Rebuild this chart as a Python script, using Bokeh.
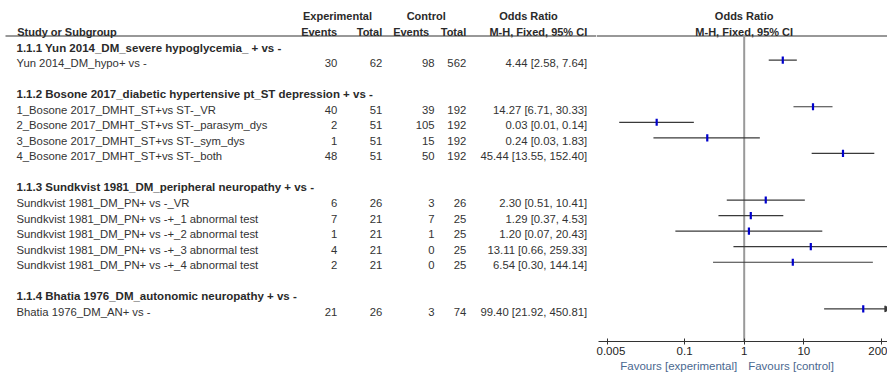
import math
from bokeh.plotting import figure
from bokeh.layouts import row, column, Spacer
from bokeh.models import Range1d, FixedTicker, ColumnDataSource
from bokeh.core.properties import value
from bokeh.embed import file_html
from bokeh.resources import INLINE

# ---------------- data ----------------
subgroups = [
    "1.1.1 Yun 2014_DM_severe hypoglycemia_ + vs -",
    "1.1.2 Bosone 2017_diabetic hypertensive pt_ST depression + vs -",
    "1.1.3 Sundkvist 1981_DM_peripheral neuropathy + vs -",
    "1.1.4 Bhatia 1976_DM_autonomic neuropathy + vs -",
]
studies = [
    "Yun 2014_DM_hypo+ vs -",
    "1_Bosone 2017_DMHT_ST+vs ST-_VR",
    "2_Bosone 2017_DMHT_ST+vs ST-_parasym_dys",
    "3_Bosone 2017_DMHT_ST+vs ST-_sym_dys",
    "4_Bosone 2017_DMHT_ST+vs ST-_both",
    "Sundkvist 1981_DM_PN+ vs -_VR",
    "Sundkvist 1981_DM_PN+ vs -+_1 abnormal test",
    "Sundkvist 1981_DM_PN+ vs -+_2 abnormal test",
    "Sundkvist 1981_DM_PN+ vs -+_3 abnormal test",
    "Sundkvist 1981_DM_PN+ vs -+_4 abnormal test",
    "Bhatia 1976_DM_AN+ vs -",
]
study_group = [0, 1, 1, 1, 1, 2, 2, 2, 2, 2, 3]
exp_events = [30, 40, 2, 1, 48, 6, 7, 1, 4, 2, 21]
exp_total = [62, 51, 51, 51, 51, 26, 21, 21, 21, 21, 26]
ctl_events = [98, 39, 105, 15, 50, 3, 7, 1, 0, 0, 3]
ctl_total = [562, 192, 192, 192, 192, 26, 25, 25, 25, 25, 74]
or_est = [4.44, 14.27, 0.034, 0.24, 45.44, 2.30, 1.29, 1.20, 13.11, 6.54, 99.40]
ci_lo = [2.58, 6.71, 0.008, 0.03, 13.55, 0.51, 0.37, 0.07, 0.66, 0.30, 21.92]
ci_hi = [7.64, 30.33, 0.143, 1.83, 152.40, 10.41, 4.53, 20.43, 259.33, 144.14, 450.81]
tick_values = [0.005, 0.1, 1, 10, 200]
tick_labels = ["0.005", "0.1", "1", "10", "200"]
axis_limit = 300
favours_left = "Favours [experimental]"
favours_right = "Favours [control]"

# ---------------- layout (row units) ----------------
group_rows, study_rows = [], []
r = 0
for g in range(len(subgroups)):
    group_rows.append(r)
    r += 1
    for i, sg in enumerate(study_group):
        if sg == g:
            study_rows.append(r)
            r += 1
    r += 1

FONT = "Liberation Sans"
TXT = "#333333"
HEAD = "#2a2a2a"
ROW_PX = 15.55
Y_TOP = -47 / ROW_PX
Y_BOT = (341 - 47) / ROW_PX
H1 = (15 - 47) / ROW_PX
H2 = (31 - 47) / ROW_PX
HLINE = (35.5 - 47) / ROW_PX
BOTTOM = 18

W_LEFT, W_RIGHT, H_TOP, H_FAV = 596, 291, 359, 13

left = figure(width=W_LEFT, height=H_TOP, x_range=Range1d(0, W_LEFT),
              y_range=Range1d(Y_BOT, Y_TOP), toolbar_location=None,
              output_backend="svg", x_axis_location=None, y_axis_location=None,
              min_border=0, min_border_bottom=BOTTOM, outline_line_color=None)
left.grid.visible = False


def txt(p, x, y, t, align="left", bold=False, size="11.3px", color=TXT, x_offset=0):
    p.text(x=[x] if not isinstance(x, list) else x,
           y=[y] if not isinstance(y, list) else y,
           text=[t] if not isinstance(t, list) else t,
           text_align=align, text_baseline="middle", x_offset=x_offset,
           text_font=value(FONT), text_font_size=size,
           text_font_style="bold" if bold else "normal", text_color=color)


# headers
txt(left, 16.7, H2, "Study or Subgroup", bold=True, size="11px", color=HEAD)
txt(left, 337, H1, "Experimental", "center", True, "11px", HEAD)
txt(left, 425.7, H1, "Control", "center", True, "11px", HEAD)
txt(left, 528, H1, "Odds Ratio", "center", True, "11px", HEAD)
txt(left, 336.7, H2, "Events", "right", True, "11px", HEAD)
txt(left, 381.7, H2, "Total", "right", True, "11px", HEAD)
txt(left, 428.7, H2, "Events", "right", True, "11px", HEAD)
txt(left, 465.7, H2, "Total", "right", True, "11px", HEAD)
txt(left, 586.7, H2, "M-H, Fixed, 95% CI", "right", True, "11px", HEAD)
left.segment(x0=[5], x1=[W_LEFT], y0=[HLINE], y1=[HLINE], line_color="#333333", line_width=1.2)

# subgroup headings
txt(left, [16] * len(subgroups), group_rows, subgroups, bold=True, size="11.5px", color=HEAD)

# study rows
txt(left, [16] * len(studies), study_rows, studies)
txt(left, [336.7] * len(studies), study_rows, [str(v) for v in exp_events], "right")
txt(left, [381.7] * len(studies), study_rows, [str(v) for v in exp_total], "right")
txt(left, [434] * len(studies), study_rows, [str(v) for v in ctl_events], "right")
txt(left, [465.7] * len(studies), study_rows, [str(v) for v in ctl_total], "right")
or_text = ["%.2f [%.2f, %.2f]" % (o, l, h) for o, l, h in zip(or_est, ci_lo, ci_hi)]
txt(left, [586.7] * len(studies), study_rows, or_text, "right")

# ---------------- forest plot ----------------
PX_DEC = 59.6
X1 = 743.7 - W_LEFT
xmin = 10 ** (-X1 / PX_DEC)
xmax = 10 ** ((W_RIGHT - X1) / PX_DEC)
xr = Range1d(xmin, xmax)

right = figure(width=W_RIGHT, height=H_TOP, x_axis_type="log",
               x_range=xr, y_range=Range1d(Y_BOT, Y_TOP),
               toolbar_location=None, output_backend="svg", y_axis_location=None,
               min_border=0, min_border_bottom=BOTTOM, outline_line_color=None)
right.grid.visible = False

txt(right, 1, H1, "Odds Ratio", "center", True, "11px", HEAD)
txt(right, 1, H2, "M-H, Fixed, 95% CI", "center", True, "11px", HEAD)
right.segment(x0=[xmin], x1=[xmax], y0=[HLINE], y1=[HLINE], line_color="#333333", line_width=1.2)

# line of no effect
right.segment(x0=[1], x1=[1], y0=[HLINE], y1=[Y_BOT], line_color="#999999", line_width=2)

my = [rr - 0.19 for rr in study_rows]
src = ColumnDataSource(dict(lo=ci_lo, hi=ci_hi, est=or_est, y=my,
                            y0=[v - 0.23 for v in my], y1=[v + 0.23 for v in my]))
right.segment(x0="lo", x1="hi", y0="y", y1="y", source=src, line_color="#3a3a3a", line_width=1.2)
right.segment(x0="est", x1="est", y0="y0", y1="y1", source=src, line_color="#0000cc", line_width=2.2)

# arrows for CIs beyond the axis limit
arr_x = [xmax / 1.035 for h in ci_hi if h > axis_limit]
arr_y = [y for h, y in zip(ci_hi, my) if h > axis_limit]
if arr_x:
    right.scatter(x=arr_x, y=arr_y, marker="triangle", angle=-math.pi / 2,
                  size=6, color="#3a3a3a")

ax = right.xaxis[0]
ax.ticker = FixedTicker(ticks=tick_values)
ax.major_label_overrides = {t: l for t, l in zip(tick_values, tick_labels)}
ax.bounds = (10 ** ((598 - 743.7) / PX_DEC), xmax * 10)
ax.axis_line_color = "#333333"
ax.major_tick_line_color = "#333333"
ax.major_tick_in = 3
ax.major_tick_out = 3
ax.minor_tick_line_color = None
ax.major_label_standoff = 2
ax.major_label_text_font = FONT
ax.major_label_text_font_size = "11.5px"
ax.major_label_text_color = "#222222"

# favours labels strip below the axis
fav = figure(width=W_RIGHT, height=H_FAV, x_axis_type="log", x_range=xr,
             y_range=Range1d(0, 1), toolbar_location=None, output_backend="svg",
             x_axis_location=None, y_axis_location=None, min_border=0,
             outline_line_color=None)
fav.grid.visible = False
txt(fav, 1, 0.5, favours_left, "right", False, "11.5px", "#4a6890", x_offset=-7)
txt(fav, 1, 0.5, favours_right, "left", False, "11.5px", "#4a6890", x_offset=4)

layout = column(row(left, right), row(Spacer(width=W_LEFT, height=H_FAV), fav))
open("out.html", "w").write(file_html(layout, INLINE))
